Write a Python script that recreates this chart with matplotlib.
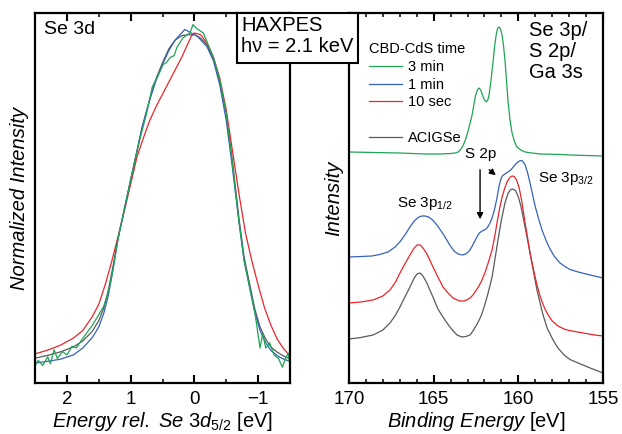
import numpy as np
import matplotlib.pyplot as plt
from matplotlib.lines import Line2D
from matplotlib.patches import Rectangle
from matplotlib.ticker import MultipleLocator, NullLocator

plt.rcParams['font.family'] = ['Liberation Sans', 'DejaVu Sans']
plt.rcParams['mathtext.fontset'] = 'custom'
plt.rcParams['mathtext.rm'] = 'Liberation Sans'
plt.rcParams['mathtext.it'] = 'Liberation Sans:italic'

GREEN = '#20a455'
BLUE = '#3563b8'
RED = '#e8262c'
GRAY = '#5a5a5a'

# --- Se 3d, normalized, energy relative to Se 3d5/2 ---
se3d_gray_e = [2.5, 2.3, 2.1, 1.9, 1.75, 1.6, 1.5, 1.42, 1.35, 1.28, 1.2, 1.0, 0.82, 0.7, 0.6, 0.5, 0.4, 0.3,
               0.2, 0.1, 0.0, -0.1, -0.2, -0.3, -0.4, -0.5, -0.6, -0.7, -0.78, -0.87, -0.95, -1.03, -1.12,
               -1.2, -1.3, -1.4, -1.5]
se3d_gray_i = [0.071, 0.079, 0.089, 0.103, 0.12, 0.148, 0.178, 0.215, 0.265, 0.33, 0.41, 0.58, 0.73, 0.81, 0.87,
               0.915, 0.955, 0.98, 0.992, 0.995, 0.995, 0.985, 0.965, 0.925, 0.86, 0.77, 0.63, 0.47, 0.36, 0.28,
               0.21, 0.16, 0.125, 0.103, 0.088, 0.077, 0.069]

se3d_blue_e = [2.5, 2.3, 2.1, 1.9, 1.75, 1.6, 1.5, 1.42, 1.35, 1.28, 1.2, 1.0, 0.82, 0.7, 0.6, 0.5, 0.4, 0.3,
               0.2, 0.15, 0.05, -0.05, -0.2, -0.3, -0.4, -0.5, -0.6, -0.7, -0.78, -0.87, -0.95, -1.03, -1.12,
               -1.2, -1.3, -1.4, -1.5]
se3d_blue_i = [0.057, 0.062, 0.068, 0.08, 0.10, 0.13, 0.16, 0.20, 0.25, 0.32, 0.41, 0.58, 0.73, 0.81, 0.865,
               0.91, 0.95, 0.98, 1.0, 1.01, 1.0, 0.99, 0.96, 0.92, 0.85, 0.75, 0.61, 0.46, 0.35, 0.27, 0.20,
               0.15, 0.115, 0.093, 0.078, 0.068, 0.062]

se3d_red_e = [2.5, 2.3, 2.1, 1.9, 1.75, 1.6, 1.5, 1.4, 1.3, 1.25, 1.1, 0.9, 0.8, 0.7, 0.6, 0.5, 0.4, 0.3, 0.2,
              0.1, 0.05, 0.0, -0.1, -0.2, -0.3, -0.4, -0.5, -0.6, -0.7, -0.8, -0.9, -1.0, -1.1, -1.2, -1.3,
              -1.4, -1.5]
se3d_red_i = [0.083, 0.094, 0.108, 0.128, 0.15, 0.19, 0.225, 0.28, 0.345, 0.38, 0.49, 0.646, 0.70, 0.75, 0.79,
              0.825, 0.86, 0.895, 0.93, 0.97, 0.99, 1.0, 0.995, 0.97, 0.93, 0.87, 0.78, 0.66, 0.54, 0.43, 0.35,
              0.28, 0.215, 0.165, 0.125, 0.098, 0.078]

se3d_green_e = [2.5, 2.45, 2.38, 2.3, 2.26, 2.2, 2.15, 2.07, 2.0, 1.92, 1.85, 1.78, 1.7, 1.6, 1.5, 1.42,
                1.35, 1.28, 1.2, 1.0, 0.85, 0.75, 0.66, 0.59, 0.49, 0.44, 0.38, 0.32, 0.27, 0.18, 0.07, 0.02,
                -0.04, -0.14, -0.3, -0.4, -0.5, -0.6, -0.7, -0.78, -0.87, -0.95, -1.03, -1.07, -1.12, -1.18,
                -1.25, -1.32, -1.38, -1.43, -1.47, -1.5]
se3d_green_i = [0.05, 0.065, 0.05, 0.075, 0.055, 0.095, 0.07, 0.09, 0.08, 0.105, 0.10, 0.12, 0.14, 0.165, 0.195,
                0.22, 0.26, 0.32, 0.41, 0.58, 0.70, 0.77, 0.846, 0.87, 0.91, 0.915, 0.93, 0.935, 0.96, 0.986,
                1.0, 1.024, 1.012, 1.0, 0.93, 0.865, 0.77, 0.62, 0.46, 0.35, 0.27, 0.20, 0.10, 0.14, 0.10,
                0.115, 0.08, 0.07, 0.045, 0.07, 0.085, 0.05]

# --- Se 3p / S 2p / Ga 3s region, offset spectra ---
be_gray = [170.0, 169.3, 168.58, 168.0, 167.58, 167.25, 166.99, 166.7, 166.4, 166.15, 165.98, 165.8, 165.63,
           165.4, 165.2, 165.04, 164.75, 164.45, 164.21, 163.9, 163.62, 163.33, 163.1, 162.85, 162.68, 162.4,
           162.2, 162.0, 161.8, 161.55, 161.4, 161.2, 161.0, 160.79, 160.6, 160.45, 160.31, 160.15, 160.0,
           159.85, 159.72, 159.5, 159.31, 159.1, 158.9, 158.7, 158.54, 158.3, 157.95, 157.66, 157.3, 156.95,
           156.47, 155.76, 155.0]
int_gray = [0.44, 0.455, 0.48, 0.53, 0.60, 0.68, 0.76, 0.86, 0.96, 1.05, 1.09, 1.10, 1.07,
            1.00, 0.92, 0.86, 0.74, 0.66, 0.60, 0.53, 0.48, 0.46, 0.465, 0.48, 0.52, 0.60,
            0.67, 0.77, 0.89, 1.06, 1.22, 1.43, 1.63, 1.80, 1.90, 1.935, 1.94, 1.92, 1.86,
            1.77, 1.66, 1.47, 1.30, 1.11, 0.93, 0.79, 0.68, 0.55, 0.43, 0.35, 0.28, 0.235,
            0.20, 0.15, 0.10]

be_red = [170.0, 169.3, 168.58, 168.0, 167.58, 167.25, 166.99, 166.7, 166.4, 166.15, 165.98, 165.8, 165.63,
          165.4, 165.2, 165.04, 164.75, 164.45, 164.15, 163.86, 163.6, 163.44, 163.2, 163.0, 162.85, 162.68,
          162.4, 162.2, 162.0, 161.8, 161.55, 161.4, 161.26, 161.1, 160.96, 160.8, 160.67, 160.5, 160.37,
          160.25, 160.1, 159.95, 159.8, 159.6, 159.45, 159.31, 159.15, 159.01, 158.85, 158.7, 158.55, 158.4,
          158.2, 158.0, 157.66, 157.3, 157.0, 156.5, 156.0, 155.5, 155.0]
int_red = [0.80, 0.81, 0.83, 0.87, 0.93, 1.01, 1.10, 1.19, 1.28, 1.35, 1.38, 1.38, 1.35,
           1.29, 1.22, 1.16, 1.06, 0.96, 0.90, 0.85, 0.83, 0.82, 0.82, 0.835, 0.85, 0.88,
           0.95, 1.01, 1.09, 1.19, 1.33, 1.46, 1.60, 1.75, 1.86, 1.95, 2.01, 2.055, 2.07,
           2.065, 2.03, 1.95, 1.82, 1.60, 1.45, 1.30, 1.17, 1.06, 0.95, 0.86, 0.79, 0.73,
           0.67, 0.62, 0.57, 0.54, 0.525, 0.51, 0.495, 0.48, 0.47]

be_blue = [170.0, 169.3, 168.64, 168.2, 167.7, 167.28, 167.0, 166.7, 166.4, 166.15, 165.92, 165.7, 165.5,
           165.3, 165.1, 164.9, 164.6, 164.33, 164.05, 163.8, 163.55, 163.3, 163.1, 162.9, 162.75, 162.6,
           162.45, 162.3, 162.14, 162.0, 161.85, 161.7, 161.55, 161.4, 161.26, 161.15, 161.05, 160.95, 160.8,
           160.61, 160.45, 160.3, 160.15, 160.02, 159.88, 159.75, 159.6, 159.45, 159.31, 159.15, 159.01,
           158.8, 158.6, 158.35, 158.13, 157.85, 157.54, 157.2, 156.95, 156.47, 155.76, 155.0]
int_blue = [1.26, 1.265, 1.27, 1.285, 1.31, 1.36, 1.41, 1.48, 1.56, 1.62, 1.655, 1.67, 1.67,
            1.66, 1.635, 1.60, 1.53, 1.46, 1.38, 1.32, 1.29, 1.28, 1.29, 1.32, 1.36, 1.41,
            1.46, 1.50, 1.52, 1.53, 1.55, 1.59, 1.65, 1.74, 1.85, 1.96, 2.03, 2.07, 2.09,
            2.11, 2.13, 2.16, 2.19, 2.21, 2.225, 2.22, 2.18, 2.10, 2.00, 1.88, 1.77,
            1.64, 1.53, 1.42, 1.34, 1.26, 1.20, 1.16, 1.135, 1.11, 1.08, 1.05]

be_green = [170.0, 168.5, 167.0, 165.5, 164.63, 164.0, 163.74, 163.55, 163.38, 163.25, 163.15, 163.05,
            162.97, 162.85, 162.73, 162.62, 162.52, 162.42, 162.32, 162.22, 162.12, 162.0, 161.9, 161.8,
            161.72, 161.62, 161.5, 161.4, 161.3, 161.22, 161.14, 161.05, 160.96, 160.88, 160.79, 160.7,
            160.61, 160.5, 160.37, 160.22, 160.08, 159.85, 159.6, 159.2, 158.72, 157.5, 156.95, 156.0,
            155.0]
int_green = [2.31, 2.305, 2.30, 2.29, 2.29, 2.295, 2.30, 2.31, 2.34, 2.38, 2.42, 2.47,
             2.52, 2.60, 2.68, 2.79, 2.88, 2.93, 2.95, 2.93, 2.88, 2.83, 2.81, 2.83,
             2.89, 3.02, 3.20, 3.37, 3.49, 3.55, 3.56, 3.54, 3.48, 3.38, 3.23, 3.03,
             2.82, 2.64, 2.50, 2.41, 2.36, 2.33, 2.31, 2.30, 2.29, 2.285, 2.28, 2.275,
             2.27]

legend_labels = ['3 min', '1 min', '10 sec', ' ', 'ACIGSe']

fig = plt.figure(figsize=(6.22, 4.34), dpi=100)
ax1 = fig.add_axes([35/622, 51/434, 255/622, 370/434])
ax2 = fig.add_axes([349/622, 51/434, 254/622, 370/434])

lw = 0.9
ax1.plot(se3d_gray_e, se3d_gray_i, color=GRAY, lw=lw)
ax1.plot(se3d_red_e, se3d_red_i, color=RED, lw=lw)
ax1.plot(se3d_blue_e, se3d_blue_i, color=BLUE, lw=lw)
ax1.plot(se3d_green_e, se3d_green_i, color=GREEN, lw=lw)

ax2.plot(be_gray, int_gray, color=GRAY, lw=lw)
ax2.plot(be_red, int_red, color=RED, lw=lw)
ax2.plot(be_blue, int_blue, color=BLUE, lw=lw)
ax2.plot(be_green, int_green, color=GREEN, lw=lw)

ax1.set_xlim(2.5, -1.5)
ax1.set_ylim(0, 1.057)
ax1.xaxis.set_major_locator(MultipleLocator(1))
ax1.xaxis.set_minor_locator(MultipleLocator(0.5))

ax2.set_xlim(170, 155)
ax2.set_ylim(0, 3.70)
ax2.xaxis.set_major_locator(MultipleLocator(5))
ax2.xaxis.set_minor_locator(MultipleLocator(1))

for ax in (ax1, ax2):
    ax.yaxis.set_major_locator(NullLocator())
    ax.yaxis.set_minor_locator(NullLocator())
    for s in ax.spines.values():
        s.set_linewidth(1.6)
    ax.tick_params(axis='x', which='major', direction='in', top=True, length=6, width=1.5,
                   labelsize=13.5, pad=6)
    ax.tick_params(axis='x', which='minor', direction='in', top=True, length=3, width=1.1)

ax1.set_ylabel('Normalized Intensity', fontsize=14.5, style='italic', labelpad=4)
ax1.set_xlabel(r'$\mathit{Energy\ rel.\ Se\ 3d_{5/2}}$ [eV]', fontsize=14.5, labelpad=1)
ax2.set_ylabel('Intensity', fontsize=14.5, style='italic', labelpad=4)
ax2.set_xlabel(r'$\mathit{Binding\ Energy}$ [eV]', fontsize=14.5, labelpad=1)

ax1.text(0.037, 0.978, 'Se 3d', transform=ax1.transAxes, fontsize=14, va='top', ha='left')
ax2.text(0.71, 0.978, 'Se 3p/\nS 2p/\nGa 3s', transform=ax2.transAxes, fontsize=14.5,
         va='top', ha='left', linespacing=1.12)

# peak labels and arrows
ax2.text(165.5, 1.80, r'Se 3p$_{\mathrm{1/2}}$', fontsize=11, ha='center', va='center')
ax2.text(158.84, 2.05, r'Se 3p$_{\mathrm{3/2}}$', fontsize=11, ha='left', va='center')
ax2.text(162.2, 2.29, 'S 2p', fontsize=11, ha='center', va='center')
ax2.annotate('', xy=(162.26, 1.61), xytext=(162.26, 2.16),
             arrowprops=dict(arrowstyle='-|>', color='black', lw=1.0, mutation_scale=9))
ax2.annotate('', xy=(161.2, 2.06), xytext=(161.85, 2.15),
             arrowprops=dict(arrowstyle='-|>', color='black', lw=1.0, mutation_scale=9))

handles = [Line2D([], [], color=GREEN, lw=lw), Line2D([], [], color=BLUE, lw=lw),
           Line2D([], [], color=RED, lw=lw), Line2D([], [], color='none', lw=lw),
           Line2D([], [], color=GRAY, lw=lw)]
ax2.legend(handles, legend_labels, title='CBD-CdS time', loc='upper left',
           bbox_to_anchor=(0.05, 0.94), frameon=False, fontsize=10.5, title_fontsize=10.5,
           alignment='left', borderpad=0, handlelength=2.25, handletextpad=0.4,
           labelspacing=0.25)

# HAXPES box spanning the gap between the panels
box = Rectangle((237/622, 371/434), 121/622, 50/434, transform=fig.transFigure,
                facecolor='white', edgecolor='black', lw=1.5, zorder=5)
fig.add_artist(box)
fig.text(241/622, 418/434, 'HAXPES\nh\u03bd = 2.1 keV', fontsize=14.5, va='top', ha='left',
         linespacing=1.1, zorder=6)

fig.savefig('out.png', dpi=100)
